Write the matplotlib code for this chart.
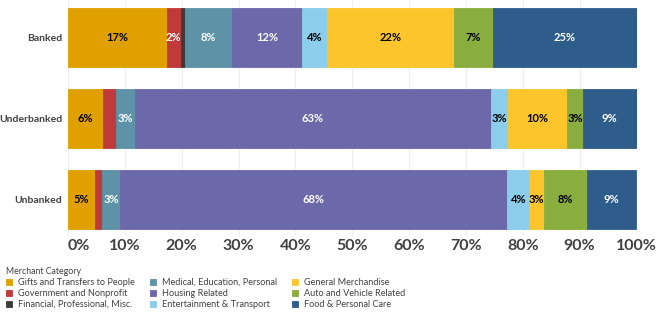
import numpy as np
import matplotlib.pyplot as plt

groups = ["Banked", "Underbanked", "Unbanked"]
categories = ["Gifts and Transfers to People", "Government and Nonprofit",
              "Financial, Professional, Misc.", "Medical, Education, Personal",
              "Housing Related", "Entertainment & Transport",
              "General Merchandise", "Auto and Vehicle Related",
              "Food & Personal Care"]

# share of spending (%) per group, in category order
banked = [17.4, 2.4, 0.8, 8.2, 12.4, 4.3, 22.4, 6.9, 25.2]
underbanked = [6.2, 2.3, 0.0, 3.2, 62.7, 3.0, 10.4, 2.8, 9.4]
unbanked = [4.8, 1.2, 0.0, 3.1, 68.2, 3.8, 2.6, 7.6, 8.7]

colors = ["#E0A100", "#C0393B", "#3B3B3B", "#5E92A6", "#6C69AA",
          "#8BCDEA", "#FBC52B", "#8AAD3F", "#2E5D8C"]
text_colors = ["black", "white", "white", "white", "white",
               "black", "black", "black", "white"]

plt.rcParams['font.family'] = ['Lato', 'DejaVu Sans']

data = np.array([banked, underbanked, unbanked])
y = np.arange(len(groups))

fig = plt.figure(figsize=(6.7, 3.22), dpi=100)
ax = fig.add_axes([0.1015, 0.267, 0.8485, 0.729])

left = np.zeros(len(groups))
for i, cat in enumerate(categories):
    vals = data[:, i]
    ax.barh(y, vals, left=left, height=0.73, color=colors[i],
            edgecolor=colors[i], linewidth=0.6, label=cat, zorder=3)
    for j, v in enumerate(vals):
        if v >= 2.4:
            ax.text(left[j] + v / 2, y[j], f"{v:.0f}%", ha="center", va="center",
                    fontsize=8, fontweight="bold", color=text_colors[i], zorder=4)
    left += vals

ax.set_xlim(0, 100)
ax.set_ylim(2.45, -0.45)
ax.set_yticks(y)
ax.set_yticklabels(groups, fontsize=7.5, fontweight="bold", color="#404040")
ax.set_xticks(np.arange(0, 101, 10))
ax.set_xticklabels([f"{t}%" for t in range(0, 101, 10)], fontsize=11.5,
                   fontweight="bold", color="#404040")
ax.get_xticklabels()[0].set_horizontalalignment("left")
ax.tick_params(axis="x", length=0, pad=2)
ax.tick_params(axis="y", length=0, pad=4)
ax.xaxis.grid(True, color="#EEEEEE", linewidth=0.8, zorder=0)
for s in ax.spines.values():
    s.set_visible(False)

leg = fig.legend(loc="upper left", bbox_to_anchor=(0.002, 0.185), ncol=3,
                 frameon=False, fontsize=6.6, title="Merchant Category",
                 title_fontsize=6.3, handlelength=0.65, handleheight=0.65,
                 handletextpad=0.7, columnspacing=1.6, labelspacing=0.22,
                 borderaxespad=0.3, borderpad=0.2)
leg._legend_box.align = "left"
for t in leg.get_texts():
    t.set_color("#404040")
leg.get_title().set_color("#404040")

fig.savefig("out.png", dpi=100)
